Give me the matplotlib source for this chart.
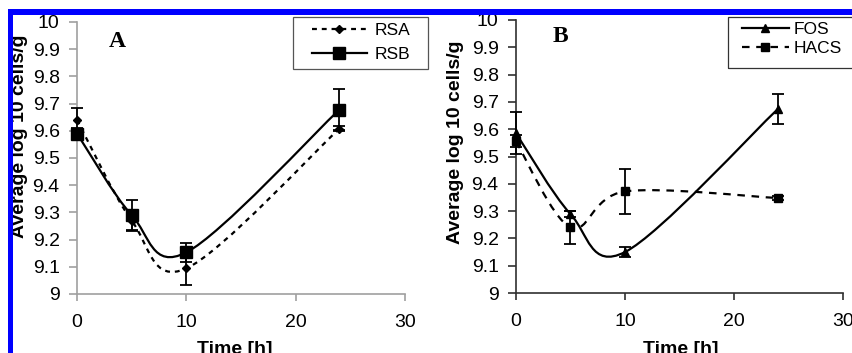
import numpy as np
import matplotlib
matplotlib.use("Agg")
import matplotlib.pyplot as plt
from matplotlib.path import Path
from matplotlib.patches import PathPatch, Rectangle
from matplotlib.lines import Line2D
from matplotlib.ticker import MultipleLocator, FuncFormatter

plt.rcParams['font.family'] = ['Liberation Sans', 'DejaVu Sans']

time = [0, 5, 10, 24]

rsa = [9.64, 9.27, 9.094, 9.608]
rsa_err = [0.045, 0.035, 0.06, 0.01]
rsb = [9.59, 9.29, 9.153, 9.678]
rsb_err = [0.02, 0.057, 0.035, 0.075]

fos = [9.585, 9.289, 9.15, 9.673]
fos_err = [0.077, 0.01, 0.017, 0.055]
hacs = [9.555, 9.24, 9.372, 9.348]
hacs_err = [0.022, 0.062, 0.083, 0.008]

xticks = [0, 10, 20, 30]
ylabel = "Average log 10 cells/g"
xlabel = "Time [h]"

W, H = 853, 353


def smooth_path(x, y):
    pts = np.column_stack([x, y]).astype(float)
    n = len(pts)
    verts = [pts[0]]
    codes = [Path.MOVETO]
    for i in range(n - 1):
        p0 = pts[i - 1] if i > 0 else pts[i]
        p1 = pts[i]
        p2 = pts[i + 1]
        p3 = pts[i + 2] if i + 2 < n else pts[i + 1]
        c1 = p1 + (p2 - p0) / 6.0
        c2 = p2 - (p3 - p1) / 6.0
        verts += [c1, c2, p2]
        codes += [Path.CURVE4] * 3
    return Path(verts, codes)


def draw_series(ax, x, y, err, ls, marker, ms):
    patch = PathPatch(smooth_path(x, y), facecolor='none', edgecolor='black',
                      lw=1.6, linestyle=ls, clip_on=False, zorder=3)
    ax.add_patch(patch)
    ax.errorbar(x, y, yerr=err, fmt='none', ecolor='black', elinewidth=1.3,
                capsize=4, capthick=1.3, zorder=4, clip_on=False)
    ax.plot(x, y, linestyle='none', marker=marker, ms=ms, color='black',
            zorder=5, clip_on=False)


fig = plt.figure(figsize=(W / 100, H / 100), dpi=100)

axA = fig.add_axes([77 / W, 1 - 294 / H, (405 - 77) / W, (294 - 22) / H])
axB = fig.add_axes([516 / W, 1 - 293 / H, (843 - 516) / W, (293 - 20) / H])

fmt = FuncFormatter(lambda v, p: ('%.1f' % v).rstrip('0').rstrip('.'))
for ax, sc in ((axA, '#a0a0a0'), (axB, '#303030')):
    ax.set_xlim(0, 30)
    ax.set_ylim(9, 10)
    ax.set_xticks(xticks)
    ax.yaxis.set_major_locator(MultipleLocator(0.1))
    ax.yaxis.set_major_formatter(fmt)
    for s in ('top', 'right'):
        ax.spines[s].set_visible(False)
    for s in ('left', 'bottom'):
        ax.spines[s].set_color(sc)
        ax.spines[s].set_linewidth(1.2)
    ax.tick_params(axis='both', colors=sc, labelcolor='black', labelsize=14,
                   length=5, width=1.2)
    ax.tick_params(axis='y', pad=6.5, length=6)
    ax.tick_params(axis='x', pad=9.5)

# axis titles
fig.text(20 / W, 1 - 136 / H, ylabel, rotation=90, ha='center', va='center',
         fontsize=14, fontweight='bold')
fig.text(456 / W, 1 - 142 / H, ylabel, rotation=90, ha='center', va='center',
         fontsize=14, fontweight='bold')
fig.text(235 / W, 1 - 341 / H, xlabel, ha='center', va='top',
         fontsize=14, fontweight='bold')
fig.text(681 / W, 1 - 341 / H, xlabel, ha='center', va='top',
         fontsize=14, fontweight='bold')

rsa_ls = (0, (2.2, 2.2))
hacs_ls = (0, (3.4, 3.0))

# Panel A
draw_series(axA, time, rsa, rsa_err, rsa_ls, 'D', 4.5)
draw_series(axA, time, rsb, rsb_err, '-', 's', 8)
axA.text(3.66, 9.93, 'A', family=['Liberation Serif'], fontweight='bold',
         fontsize=17, ha='center', va='center')

# Panel B
draw_series(axB, time, fos, fos_err, '-', '^', 6)
draw_series(axB, time, hacs, hacs_err, hacs_ls, 's', 5.5)
axB.text(4.1, 9.94, 'B', family=['Liberation Serif'], fontweight='bold',
         fontsize=17, ha='center', va='center')

# legends (frameless, box drawn separately)
hA = [Line2D([], [], color='black', lw=1.6, ls=rsa_ls, marker='D', ms=4.5),
      Line2D([], [], color='black', lw=1.6, ls='-', marker='s', ms=8)]
fig.legend(hA, ['RSA', 'RSB'], loc='upper left',
           bbox_to_anchor=(312 / W, 1 - 23 / H), fontsize=12.5,
           frameon=False, handlelength=3.15, handletextpad=0.45,
           borderpad=0, labelspacing=0.5, borderaxespad=0)
fig.add_artist(Rectangle((293 / W, 1 - 69 / H), (428 - 293) / W, 52 / H,
                         transform=fig.transFigure, facecolor='none',
                         edgecolor='#555555', lw=0.9, zorder=6))

hB = [Line2D([], [], color='black', lw=1.6, ls='-', marker='^', ms=6),
      Line2D([], [], color='black', lw=1.6, ls=hacs_ls, marker='s', ms=5.5)]
fig.legend(hB, ['FOS', 'HACS'], loc='upper left',
           bbox_to_anchor=(742 / W, 1 - 22 / H), fontsize=12.5,
           frameon=False, handlelength=2.7, handletextpad=0.25,
           borderpad=0, labelspacing=0.2, borderaxespad=0)
fig.add_artist(Rectangle((728 / W, 1 - 68 / H), 140 / W, 51 / H,
                         transform=fig.transFigure, facecolor='none',
                         edgecolor='#333333', lw=0.9, zorder=6))

# blue frame
fig.add_artist(Rectangle((8 / W, 0), 5 / W, 1 - 9 / H, transform=fig.transFigure,
                         color='#0000ff', zorder=10, lw=0))
fig.add_artist(Rectangle((8 / W, 1 - 15 / H), 1 - 8 / W, 6 / H, transform=fig.transFigure,
                         color='#0000ff', zorder=10, lw=0))

fig.savefig('out.png', dpi=100)
